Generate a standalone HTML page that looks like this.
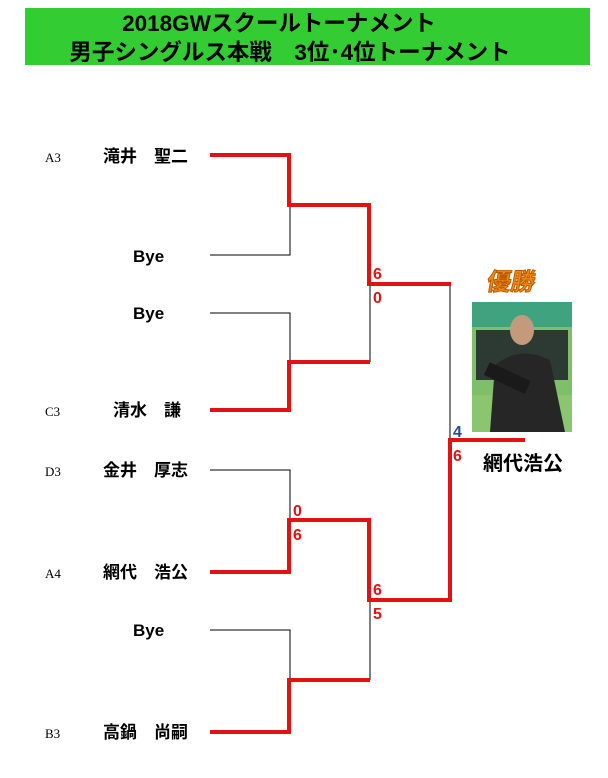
<!DOCTYPE html>
<html><head><meta charset="utf-8"><style>
body{margin:0;background:#fff;width:608px;height:778px;overflow:hidden;font-family:"Liberation Sans","Noto Sans CJK JP",sans-serif}
</style></head><body>
<svg width="608" height="778" xmlns="http://www.w3.org/2000/svg" style="position:absolute;left:0;top:0">
<rect x="25" y="8" width="565" height="57" fill="#33cc33"/>
<text x="279" y="31" text-anchor="middle" font-size="22.5" font-weight="bold" font-family="Liberation Sans,Noto Sans CJK JP,sans-serif">2018GWスクールトーナメント</text>
<text x="290" y="60" text-anchor="middle" font-size="22.5" font-weight="bold" font-family="Liberation Sans,Noto Sans CJK JP,sans-serif">男子シングルス本戦　3位･4位トーナメント</text>
<g stroke="#000" stroke-width="1" fill="none">
<path d="M210 255H290V205"/>
<path d="M210 313H290V362"/>
<path d="M370 284V362"/>
<path d="M450 284V440"/>
<path d="M210 470H290V520"/>
<path d="M210 630H290V680"/>
<path d="M370 600V680"/>
</g>
<g stroke="#e31212" stroke-width="4" fill="none">
<path d="M210 155H289V205H369V284H451"/>
<path d="M210 410H289V362H370"/>
<path d="M210 572H289V520H369V600H450V440H525"/>
<path d="M210 732H289V680H370"/>
</g>
<g font-family="Liberation Serif,serif" font-size="13">
<text x="45" y="162">A3</text><text x="45" y="416">C3</text><text x="45" y="476">D3</text><text x="45" y="578">A4</text><text x="45" y="738">B3</text>
</g>
<g font-size="17" font-weight="bold" font-family="Liberation Sans,Noto Sans CJK JP,sans-serif">
<text x="103" y="162">滝井　聖二</text>
<text x="133" y="262">Bye</text>
<text x="133" y="319">Bye</text>
<text x="113" y="416">清水　謙</text>
<text x="103" y="476">金井　厚志</text>
<text x="103" y="578">網代　浩公</text>
<text x="133" y="636">Bye</text>
<text x="103" y="738">高鍋　尚嗣</text>
</g>
<g font-size="16" font-weight="bold" fill="#e31212">
<text x="373" y="279">6</text><text x="373" y="303">0</text>
<text x="453" y="461">6</text>
<text x="293" y="516">0</text><text x="293" y="540">6</text>
<text x="373" y="595">6</text><text x="373" y="619">5</text>
</g>
<text x="453" y="437" font-size="16" font-weight="bold" fill="#1f4e8c">4</text>
<text x="483" y="470" font-size="20" font-weight="bold" font-family="Liberation Sans,Noto Sans CJK JP,sans-serif">網代浩公</text>
<text x="487" y="290" font-size="24" font-weight="bold" fill="#f28a10" stroke="#b85a00" stroke-width="1" font-family="Noto Sans CJK JP,sans-serif" transform="skewX(-10) translate(50,0)">優勝</text>
<rect x="472" y="302" width="100" height="130" fill="#7fbf6a"/>
<rect x="472" y="302" width="100" height="25" fill="#3fa37f"/>
<rect x="476" y="330" width="92" height="50" fill="#2d3a33"/>
<rect x="472" y="395" width="100" height="37" fill="#8cc56f"/>
<path d="M490 432 L495 365 Q520 345 550 360 L565 432Z" fill="#262626"/>
<ellipse cx="522" cy="330" rx="12" ry="15" fill="#c49a7c"/>
<rect x="485" y="370" width="45" height="14" fill="#1a1a1a" transform="rotate(25 505 377)"/>
</svg>
</body></html>
